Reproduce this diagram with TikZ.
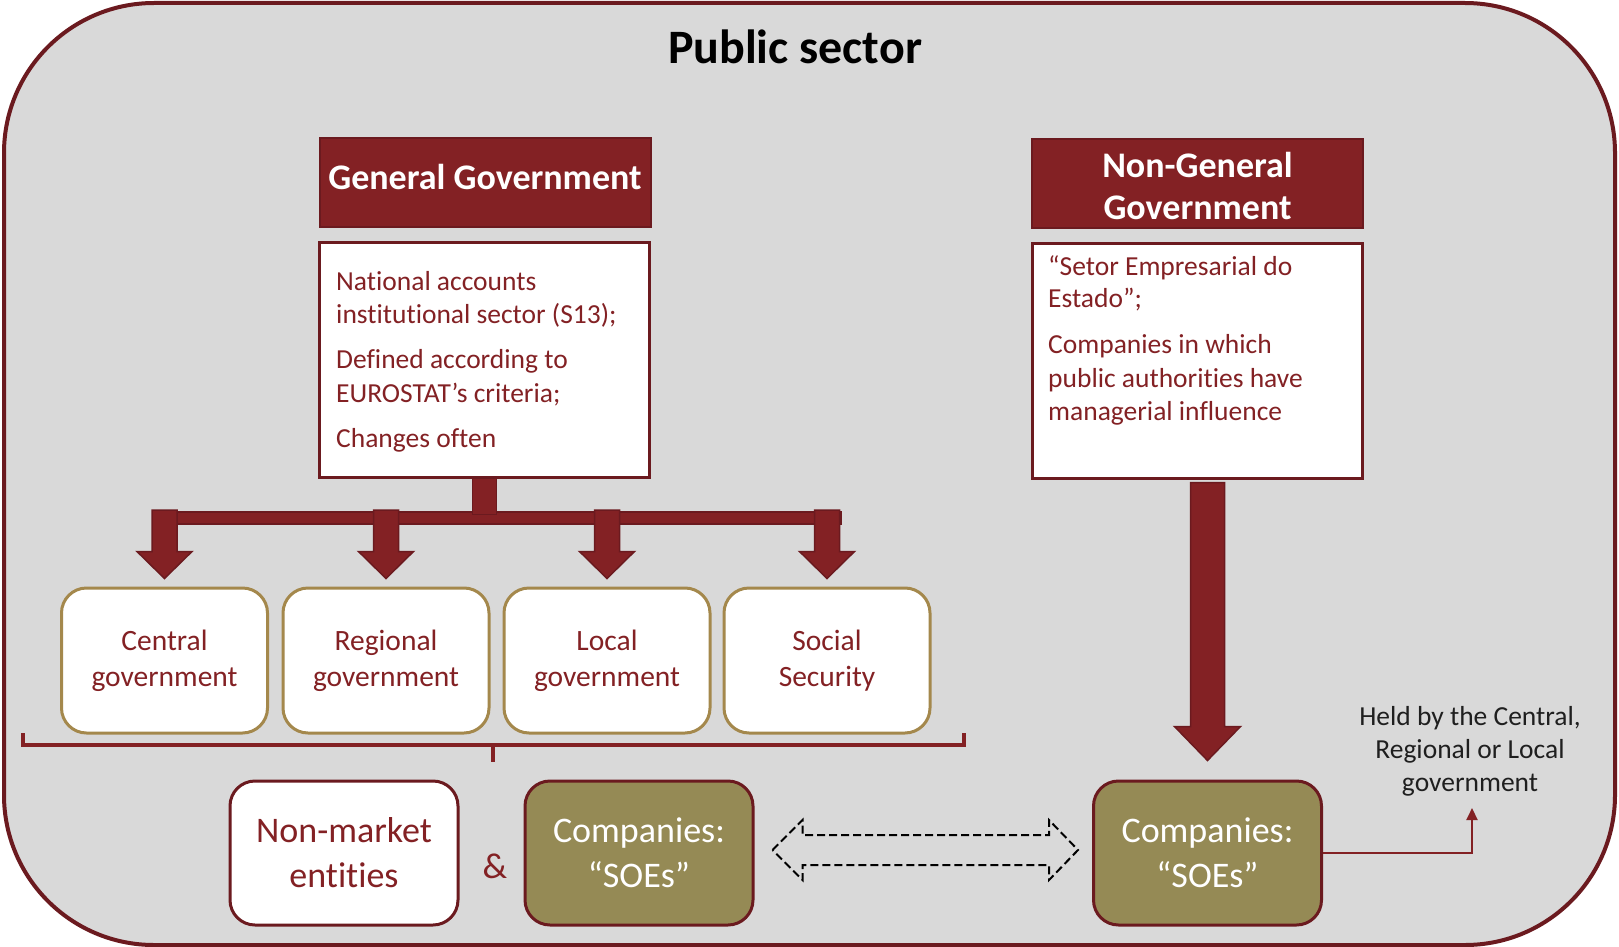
\documentclass[tikz,border=0pt]{standalone}
\usepackage{fontspec}
\setmainfont{Carlito}[RawFeature=-liga, RawFeature=-clig, RawFeature=-calt, RawFeature=-dlig]
\usetikzlibrary{arrows.meta,calc}

\definecolor{wine}{HTML}{832124}
\definecolor{wineline}{HTML}{6B1A1F}
\definecolor{panel}{HTML}{D9D9D9}
\definecolor{goldline}{HTML}{A4884C}
\definecolor{olive}{HTML}{958A55}
\definecolor{inkblack}{HTML}{1F1F1F}

\newcommand\fs[2]{\fontsize{#1}{#2}\selectfont}

% block arrow pointing down: #1 point giving the top, #2 tip,
% #3 half shaft width, #4 half head width, #5 head length
\newcommand\blockdown[5]{%
  \path[blockarrow] let \p1=(#1), \p2=(#2) in
    (\x2-#3,\y1) -- (\x2+#3,\y1) -- (\x2+#3,\y2+#5) -- (\x2+#4,\y2+#5)
    -- (\x2,\y2) -- (\x2-#4,\y2+#5) -- (\x2-#3,\y2+#5) -- cycle;}

\begin{document}
\begin{tikzpicture}[x=1pt,y=-1pt,
  headbox/.style={draw=wineline, line width=2pt, fill=wine,
    minimum width=331pt, minimum height=89pt, inner sep=0pt},
  headtext/.style={text=white, font=\bfseries\fs{36}{42}, align=center, inner sep=0pt},
  descbox/.style={draw=wineline, line width=3pt, fill=white,
    minimum width=330pt, minimum height=235pt, inner sep=0pt},
  desctext/.style={anchor=base west, inner sep=0pt, text=wine, font=\fs{27.5}{33}},
  govbox/.style={draw=goldline, line width=3pt, fill=white, rounded corners=25pt,
    minimum width=206pt, minimum height=145pt, inner sep=0pt,
    align=center, text=wine, font=\fs{29.5}{36}},
  entbox/.style={draw=wineline, line width=3pt, rounded corners=25pt,
    minimum width=228pt, minimum height=144pt, inner sep=0pt,
    align=center, font=\fs{36}{45}},
  blockarrow/.style={fill=wine, draw=wineline, line width=1.5pt},
  brace/.style={draw=wine, line width=4pt},
]
\useasboundingbox (0,0) rectangle (1619,947);

% outer panel
\draw[line width=4pt, draw=wineline, fill=panel, rounded corners=150pt]
  (4,3) rectangle (1615,945);

\node[anchor=base, inner sep=0pt, font=\bfseries\fs{48}{56}] (title) at (795,64) {Public sector};

% general government column
\node[headbox] (gghead) at (485,182.5) {};
\node[headtext, anchor=base] (ggheadtext) at (485,189) {General Government};
\node[descbox] (ggdesc) at (484.5,359.5) {};
\node[desctext] (gg1) at (336,290) {National accounts};
\node[desctext] (gg2) at (336,323) {institutional sector (S13);};
\node[desctext] (gg3) at (336,368) {Defined according to};
\node[desctext] (gg4) at (336,402) {EUROSTAT’s criteria;};
\node[desctext] (gg5) at (336,447) {Changes often};

% non-general government column
\node[headbox] (nghead) at (1197.5,183.5) {};
\node[headtext] (ngheadtext) at (1197.5,186) {Non-General\\Government};
\node[descbox] (ngdesc) at (1197,360.5) {};
\node[desctext] (ng1) at (1048,275) {“Setor Empresarial do};
\node[desctext] (ng2) at (1048,307) {Estado”;};
\node[desctext] (ng3) at (1048,353) {Companies in which};
\node[desctext] (ng4) at (1048,387) {public authorities have};
\node[desctext] (ng5) at (1048,420) {managerial influence};

% subsectors
\node[govbox] (central)  at (164.5,660.5) {Central\\government};
\node[govbox] (regional) at (386,660.5)   {Regional\\government};
\node[govbox] (local)    at (607,660.5)   {Local\\government};
\node[govbox] (social)   at (827,660.5)   {Social\\Security};

% distribution bar from the description box to the subsectors
\coordinate (bustop) at (487,510);
\path[blockarrow] (153,512) rectangle (841,524);
\path[blockarrow] let \p1=(ggdesc.south) in (\x1-12pt,\y1) rectangle (\x1+12pt,\y1-36pt);
\blockdown{bustop}{[yshift=8pt]central.north}{12.5pt}{27.5pt}{27pt}
\blockdown{bustop}{[yshift=8pt]regional.north}{12.5pt}{27.5pt}{27pt}
\blockdown{bustop}{[yshift=8pt]local.north}{12.5pt}{27.5pt}{27pt}
\blockdown{bustop}{[yshift=8pt]social.north}{12.5pt}{27.5pt}{27pt}

% brace under the subsectors
\draw[brace] (23,733) -- (23,745) -- (964,745) -- (964,733);
\draw[brace] (493,745) -- (493,762);

% bottom row
\node[entbox, fill=white, text=wine] (nonmarket) at (344,853) {Non-market\\entities};
\node[inner sep=0pt, text=wine, font=\fs{36}{42}] (amp) at (495,866) {\&};
\node[entbox, fill=olive, text=white] (soe1) at (639,853) {Companies:\\“SOEs”};
\node[entbox, fill=olive, text=white] (soe2) at (1207.5,853) {Companies:\\“SOEs”};

% arrow from the non-general description to the companies
\blockdown{[yshift=-3pt]ngdesc.south}{[yshift=19pt]soe2.north}{17pt}{33pt}{34pt}

% dashed two-way arrow between the two company boxes
\draw[black, line width=2pt, dash pattern=on 8pt off 4pt, line join=miter]
  let \p1=([xshift=18pt,yshift=3pt]soe1.east), \p2=([xshift=-14pt]soe2.west) in
  (\x1,\y1) -- (\x1+30pt,\y1+30pt) -- (\x1+30pt,\y1+15pt) -- (\x2-29pt,\y1+15pt)
  -- (\x2-29pt,\y1+30pt) -- (\x2,\y1) -- (\x2-29pt,\y1-30pt) -- (\x2-29pt,\y1-15pt)
  -- (\x1+30pt,\y1-15pt) -- (\x1+30pt,\y1-30pt) -- cycle;

% ownership note
\node[inner sep=0pt, align=center, text=inkblack, font=\fs{27.5}{33}] (held) at (1470,751)
  {Held by the Central,\\Regional or Local\\government};
\coordinate (heldtip) at (1472,808);
\draw[wine, line width=2pt, -{Triangle[width=11pt,length=12pt]}] (soe2.east) -| (heldtip);

\end{tikzpicture}
\end{document}
